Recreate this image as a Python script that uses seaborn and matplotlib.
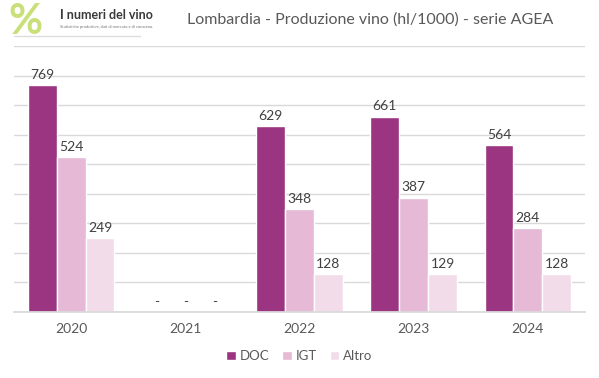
import numpy as np
import pandas as pd
import matplotlib.pyplot as plt
import seaborn as sns

years = ["2020", "2021", "2022", "2023", "2024"]
series = ["DOC", "IGT", "Altro"]
doc = [769, np.nan, 629, 661, 564]
igt = [524, np.nan, 348, 387, 284]
altro = [249, np.nan, 128, 129, 128]
colors = ["#9b3581", "#e6b9d6", "#f2dce9"]

df = pd.DataFrame({
    "anno": years * 3,
    "serie": [s for s in series for _ in years],
    "valore": doc + igt + altro,
})

sns.set_theme(style="white")
plt.rcParams['font.family'] = ['Lato', 'DejaVu Sans']

fig = plt.figure(figsize=(5.99, 3.78), dpi=100)
ax = fig.add_axes([14 / 599, 66 / 378, 571 / 599, 266 / 378])

sns.barplot(data=df, x="anno", y="valore", hue="serie", hue_order=series,
            palette=colors, width=0.76, gap=0, saturation=1, ax=ax,
            legend=True)

ax.set_ylim(0, 900)
ax.set_xlim(-0.5, 4.5)
ax.set_yticks(range(0, 901, 100))
ax.yaxis.grid(True, color="#d9d9d9", linewidth=1)
ax.set_axisbelow(True)
ax.set_yticklabels([])
ax.tick_params(axis="y", length=0)
ax.tick_params(axis="x", length=0, labelsize=10, labelcolor="#595959", pad=8)
ax.set_xlabel("")
ax.set_ylabel("")
for s in ["top", "right", "left"]:
    ax.spines[s].set_visible(False)
ax.spines["bottom"].set_color("#d9d9d9")

# data labels, with a dash where the year has no data
for cont, vals in zip(ax.containers, [doc, igt, altro]):
    bar0 = list(cont)[0]
    off = bar0.get_x() + bar0.get_width() / 2
    for i, v in enumerate(vals):
        if np.isnan(v):
            ax.text(i + off, 14, "-", ha="center", va="bottom",
                    fontsize=10, color="#404040")
        else:
            ax.text(i + off, v + 14, f"{int(v)}", ha="center", va="bottom",
                    fontsize=10, color="#404040")

handles, labels = ax.get_legend_handles_labels()
ax.legend(handles, labels, loc="upper center", bbox_to_anchor=(0.5, -0.1),
          ncol=3, frameon=False, fontsize=9.5, labelcolor="#595959",
          handlelength=0.7, handleheight=0.7, handletextpad=0.3, columnspacing=1.0)

fig.text(370 / 599, 1 - 20 / 378, "Lombardia - Produzione vino (hl/1000) - serie AGEA",
         ha="center", va="center", fontsize=11.5, color="#595959")

# logo
fig.text(8 / 599, 1 - 22 / 378, "%", ha="left", va="center", fontsize=30,
         color="#c9e07a", fontweight="bold")
fig.text(60 / 599, 1 - 15 / 378, "I numeri del vino", ha="left", va="center",
         fontsize=9, color="#3a3a3a", fontweight="bold")
fig.text(60 / 599, 1 - 27 / 378, "Statistiche produttive, dati di mercato e di consumo.",
         ha="left", va="center", fontsize=3, color="#777777")
fig.add_artist(plt.Line2D([14 / 599, 140 / 599], [1 - 36 / 378, 1 - 36 / 378],
                          color="#dddddd", linewidth=1))

fig.savefig("out.png", dpi=100)
